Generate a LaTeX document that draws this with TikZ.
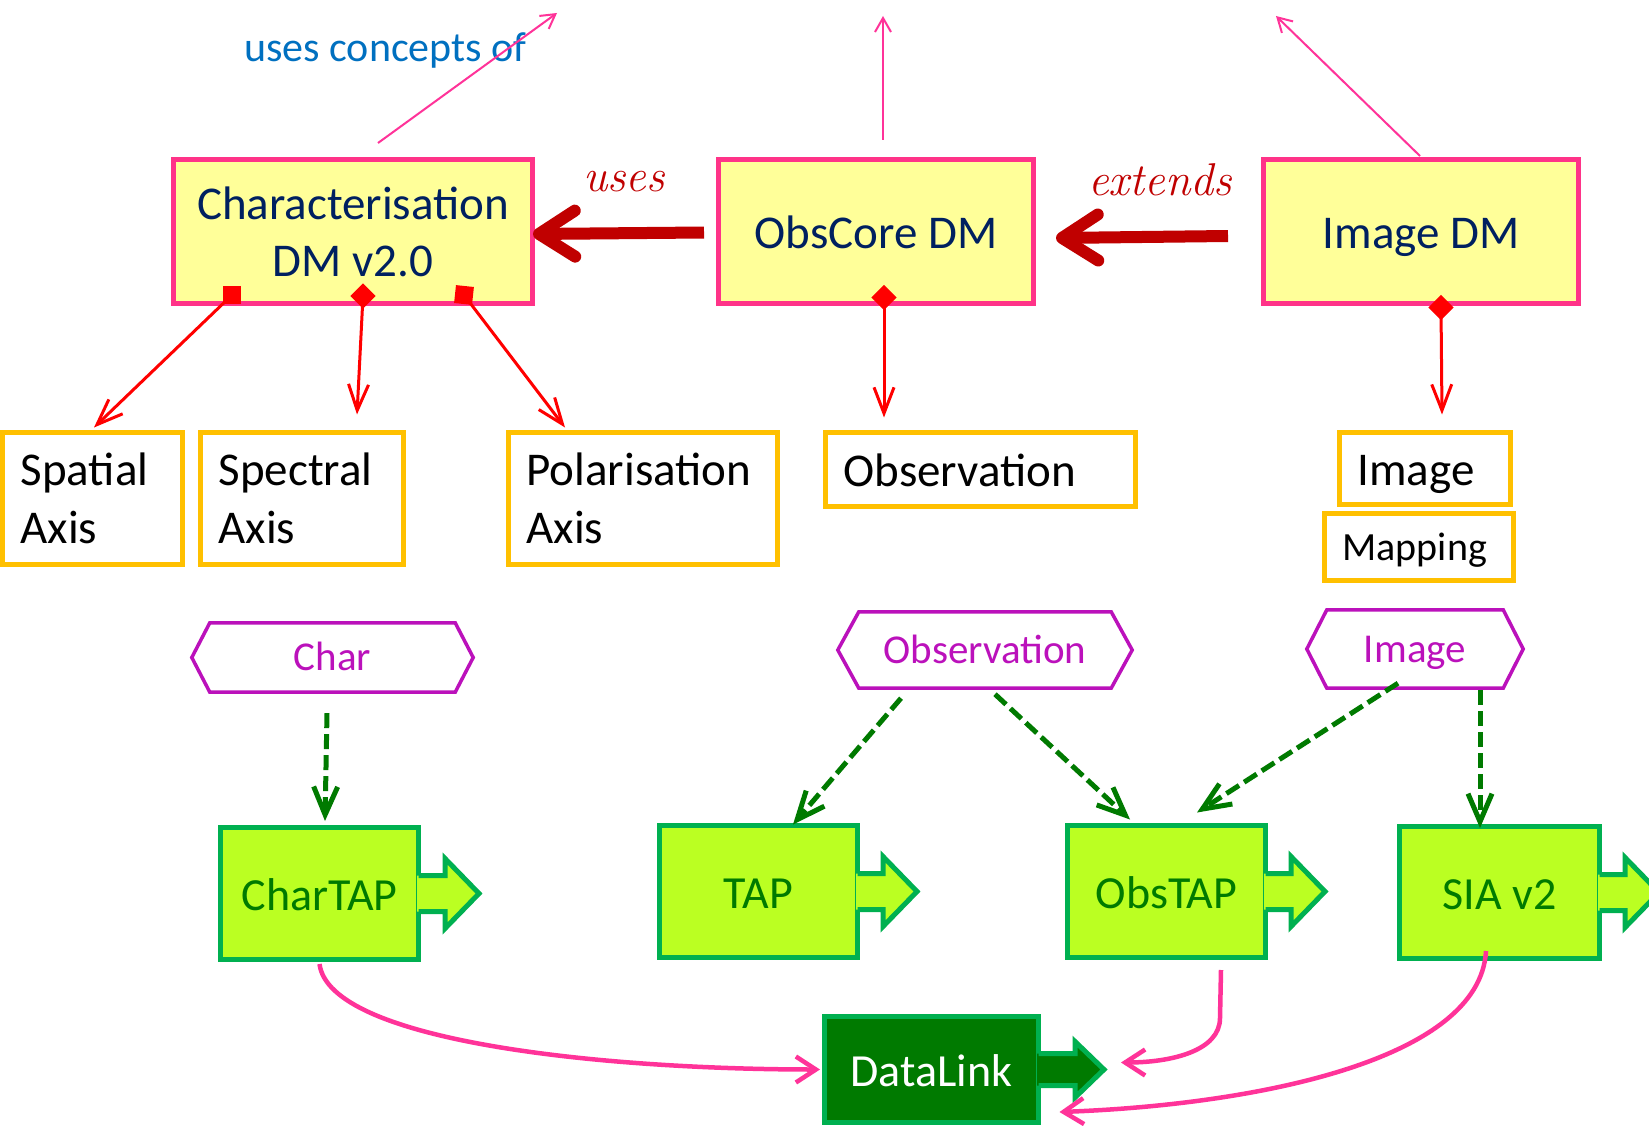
\documentclass[tikz,border=0pt]{standalone}
\usepackage{fontspec}
\newfontfamily\carl{Carlito}
\usetikzlibrary{arrows.meta,calc}
\definecolor{yfill}{HTML}{FFFF99}
\definecolor{pinkb}{HTML}{FF3388}
\definecolor{navy}{HTML}{002060}
\definecolor{oborder}{HTML}{FFC000}
\definecolor{magen}{HTML}{BB11BB}
\definecolor{gborder}{HTML}{00B050}
\definecolor{limefill}{HTML}{BBFF22}
\definecolor{dgreen}{HTML}{007A00}
\definecolor{dlfill}{HTML}{007A00}
\definecolor{dred}{HTML}{C00000}
\definecolor{pinkline}{HTML}{FF3399}
\definecolor{ublue}{HTML}{0070C0}

\tikzset{
 dmbox/.style={draw=pinkb, line width=5pt, fill=yfill, text=navy, font={\carl\fontsize{47}{57}\selectfont}, align=center, inner sep=0pt, minimum height=144pt},
 obox/.style={draw=oborder, line width=5pt, fill=white, text=black, font={\carl\fontsize{47}{58}\selectfont}, align=left, inner xsep=18pt, inner ysep=0pt},
 hexnode/.style={text=magen, font={\carl\fontsize{41}{48}\selectfont}, inner sep=0pt, text height=28pt, text depth=2pt},
 hexline/.style={draw=magen, line width=3.5pt, line join=miter},
 puzzle/.style={draw=gborder, line width=5pt, fill=limefill, text=dgreen, font={\carl\fontsize{46}{55}\selectfont}, inner sep=0pt, minimum width=198pt, minimum height=132pt, text height=35pt, text depth=2pt},
 tabline/.style={draw=gborder, line width=5pt, line join=miter},
 oneline/.style={text height=35pt, text depth=2pt},
 bigarrow/.style={draw=dred, line width=12pt, -{Straight Barb[length=36pt,width=46pt,round]}},
 thinpink/.style={draw=pinkline, line width=2pt, -{Straight Barb[length=14pt,width=16pt]}},
 comp/.style={draw=red, line width=3pt, -{Straight Barb[length=26pt,width=20pt]}},
 dasharrow/.style={draw=dgreen, line width=5pt, dash pattern=on 15pt off 6pt, -{Straight Barb[length=28pt,width=24pt]}},
 curvearrow/.style={draw=pinkline, line width=4.5pt, -{Straight Barb[length=20pt,width=26pt]}},
 hand/.style={text=dred, font={\itshape\fontsize{46}{50}\selectfont}, inner sep=0pt},
 sqmark/.style={fill=red, minimum size=18pt, inner sep=0pt, outer sep=0pt},
 dmark/.style={fill=red, minimum size=18pt, inner sep=0pt, outer sep=0pt, rotate=45},
}

\newcommand\hexoutline[2]{\draw[hexline] (#1.west) -- ($(#1.north west)+(#2,0)$) -- ($(#1.north east)+(-#2,0)$) -- (#1.east) -- ($(#1.south east)+(-#2,0)$) -- ($(#1.south west)+(#2,0)$) -- cycle;}

\newcommand\puzzletab[6]{%
 \fill[#6] ($(#1.east)+(-4,-#2)$) -- ($(#1.east)+(#3,-#2)$) -- ($(#1.east)+(#3,-#4)$) -- ($(#1.east)+(#3+#5,0)$) -- ($(#1.east)+(#3,#4)$) -- ($(#1.east)+(#3,#2)$) -- ($(#1.east)+(-4,#2)$) -- cycle;
 \draw[tabline] ($(#1.east)+(-2.5,-#2)$) -- ($(#1.east)+(#3,-#2)$) -- ($(#1.east)+(#3,-#4)$) -- ($(#1.east)+(#3+#5,0)$) -- ($(#1.east)+(#3,#4)$) -- ($(#1.east)+(#3,#2)$) -- ($(#1.east)+(-2.5,#2)$);
}

\begin{document}
\begin{tikzpicture}[x=1pt,y=-1pt]
\useasboundingbox (0,0) rectangle (1649,1126);
\clip (0,0) rectangle (1649,1126);
\fill[white] (0,0) rectangle (1649,1126);

% top data models
\node[dmbox, minimum width=359pt] (chardm) at (353,231.5) {Characterisation\\DM v2.0};
\node[dmbox, oneline, minimum width=315pt] (obscore) at (876,231.5) {ObsCore DM};
\node[dmbox, oneline, minimum width=315pt] (imagedm) at (1421,231.5) {Image DM};

\node[hand] (luses) at (624,182) {uses};
\node[hand] (lext) at (1160,180) {extends};
\node[anchor=base west, text=ublue, font={\carl\fontsize{42}{50}\selectfont}, inner sep=0pt] (ucof) at (244,62) {uses concepts of};

% component boxes
\node[obox, text width=144pt, minimum height=132pt] (spatial) at (92.5,498.5) {Spatial\\Axis};
\node[obox, text width=167pt, minimum height=132pt] (spectral) at (302,498.5) {Spectral\\Axis};
\node[obox, text width=233pt, minimum height=132pt] (polar) at (643,498.5) {Polarisation\\Axis};
\node[obox, oneline, text width=274pt, minimum height=74pt] (obsbox) at (980.5,469.5) {Observation};
\node[obox, text height=35pt, text depth=2pt, text width=135pt, minimum height=72pt] (imgbox) at (1425,468.5) {Image};
\node[obox, font={\carl\fontsize{40}{48}\selectfont}, text height=30pt, text depth=4pt, text width=153pt, minimum height=67pt] (mapbox) at (1419,547) {Mapping};

% hexagons
\node[hexnode, minimum width=281pt, minimum height=69pt] (hchar) at (332.5,657.5) {Char};
\hexoutline{hchar}{18}
\node[hexnode, minimum width=294pt, minimum height=76pt] (hobs) at (985,650) {Observation};
\hexoutline{hobs}{21}
\node[hexnode, minimum width=216pt, minimum height=78pt] (himg) at (1415,649) {Image};
\hexoutline{himg}{20}

% services
\node[puzzle] (chartap) at (319.5,893.5) {CharTAP};
\puzzletab{chartap}{18}{24}{35}{34}{limefill}
\node[puzzle] (tap) at (758.5,891.5) {TAP};
\puzzletab{tap}{18}{23}{35}{34}{limefill}
\node[puzzle] (obstap) at (1166.5,891.5) {ObsTAP};
\puzzletab{obstap}{18}{23}{35}{34}{limefill}
\node[puzzle, minimum width=200pt] (sia) at (1499.5,892.5) {SIA v2};
\puzzletab{sia}{18}{23}{35}{34}{limefill}
\node[puzzle, fill=dlfill, text=white, minimum width=214pt, minimum height=106pt] (datalink) at (931.5,1069.5) {DataLink};
\puzzletab{datalink}{16}{34}{28}{29}{dlfill}

% uses / extends
\draw[bigarrow] ($(obscore.west)+(-12,1)$) -- ($(chardm.east)+(-2,2.5)$);
\draw[bigarrow] ($(imagedm.west)+(-33,4.5)$) -- ($(obscore.east)+(20,6.5)$);

% uses concepts of
\coordinate (t1) at (557,13);
\coordinate (t2) at (883,16);
\coordinate (t3) at (1276,16);
\draw[thinpink] ($(chardm.north)+(25,-14)$) -- (t1);
\draw[thinpink] ($(obscore.north)+(7,-17)$) -- (t2);
\draw[thinpink] ($(imagedm.north)+(-1,-1)$) -- (t3);

% composition
\coordinate (m1) at ($(chardm.south west)+(61,-11)$);
\coordinate (m2) at ($(chardm.south)+(10,-10)$);
\coordinate (m3) at ($(chardm.south east)+(-71,-11)$);
\coordinate (m4) at ($(obscore.south)+(8,-8.5)$);
\coordinate (m5) at ($(imagedm.south)+(20,1.5)$);
\draw[comp] (m1) -- ($(spatial.north)+(1.5,-2.5)$);
\draw[comp] (m2) -- ($(spectral.north)+(55,-15.5)$);
\draw[comp] (m3) -- ($(polar.north)+(-78,-2.5)$);
\draw[comp] (m4) -- ($(obsbox.north)+(-96.5,-12.5)$);
\draw[comp] (m5) -- ($(imgbox.north)+(17,-15.5)$);
\node[sqmark] (mk1) at (m1) {};
\node[dmark] (mk2) at (m2) {};
\node[sqmark, rotate=-6] (mk3) at (m3) {};
\node[dmark] (mk4) at (m4) {};
\node[dmark] (mk5) at (m5) {};

% dashed realisations
\draw[dasharrow] ($(hchar.south)+(-5.5,21)$) -- ($(chartap.north)+(5.5,-4)$);
\draw[dasharrow] ($(hobs.south)+(-84,10)$) -- ($(tap.north)+(34.5,1.5)$);
\draw[dasharrow] ($(hobs.south)+(10,6)$) -- ($(obstap.north)+(-36.5,-3.5)$);
\draw[dasharrow] ($(himg.south)+(-17,-5)$) -- ($(obstap.north)+(30.5,-10.5)$);
\draw[dasharrow] ($(himg.south)+(65,2)$) -- ($(sia.north)+(-19.5,4)$);

% datalink curves
\draw[curvearrow] ($(chartap.south)+(0,2)$) .. controls +(10,78) and +(-215,0) .. ($(datalink.west)+(-2,0)$);
\draw[curvearrow] ($(obstap.south)+(54.5,10)$) -- ++(-1,48) .. controls +(0,33) and +(50,0) .. ($(datalink.east)+(80,-7)$);
\draw[curvearrow] ($(sia.south)+(-13.5,-10)$) .. controls +(-6,110) and +(193,-7) .. ($(datalink.east)+(18.5,42.5)$);
\end{tikzpicture}
\end{document}
